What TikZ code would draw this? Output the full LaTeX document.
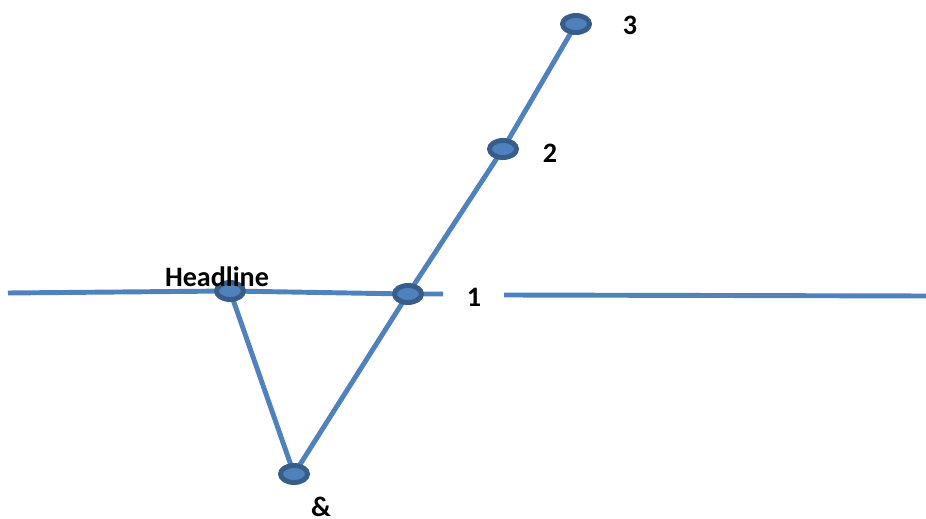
\documentclass[tikz,border=0pt]{standalone}
\usepackage{fontspec}
\setmainfont{Carlito}
\usetikzlibrary{shapes.geometric}
\definecolor{lineblue}{HTML}{4F81BD}
\definecolor{rimblue}{HTML}{385D8A}

\begin{document}
\begin{tikzpicture}[x=0.02cm,y=-0.02cm,
  vtx/.style={ellipse,draw=rimblue,fill=lineblue,line width=2.8pt,
    minimum width=0.54cm,minimum height=0.34cm,inner sep=0pt},
  edge/.style={draw=lineblue,line width=2.8pt},
  lbl/.style={font=\bfseries\fontsize{16}{18}\selectfont,inner sep=0pt}]
  \useasboundingbox (0,0) rectangle (926,519);
  % free line ends
  \coordinate (l0) at (8,293);
  \coordinate (l1) at (443,294);
  \coordinate (r0) at (504,295);
  \coordinate (r1) at (926,296);
  % points
  \coordinate (h) at (230,291);
  \coordinate (a) at (408,294);
  \coordinate (b) at (503,149);
  \coordinate (c) at (576,24);
  \coordinate (d) at (294,474);
  \path[edge] (l0) -- (h) -- (a) -- (l1);
  \path[edge] (r0) -- (r1);
  \path[edge] (a) -- (b) -- (c);
  \path[edge] (h) -- (d) -- (a);
  \node[vtx] (nh) at (h) {};
  \node[vtx] (na) at (a) {};
  \node[vtx] (nb) at (b) {};
  \node[vtx] (nc) at (c) {};
  \node[vtx] (nd) at (d) {};
  \node[lbl] (th) at (217,277) {Headline};
  \node[lbl] (ta) at (474,297) {1};
  \node[lbl] (tb) at (550,153) {2};
  \node[lbl] (tc) at (630,25) {3};
  \node[lbl] (td) at (321,507) {\&};
\end{tikzpicture}
\end{document}
